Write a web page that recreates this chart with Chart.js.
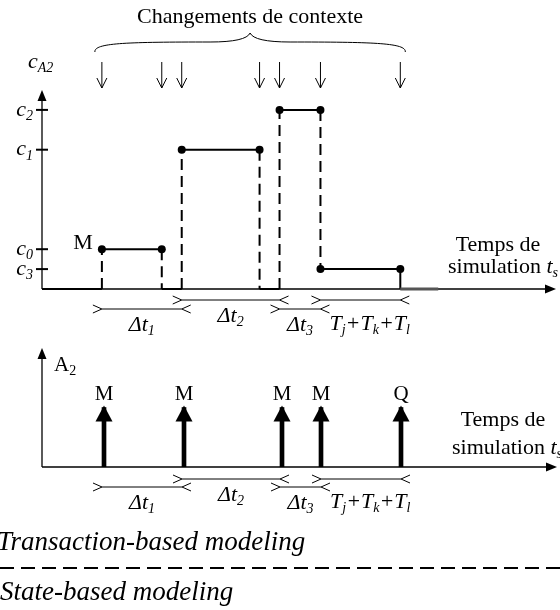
<!DOCTYPE html>
<html>
<head>
<meta charset="utf-8">
<script src="https://cdn.jsdelivr.net/npm/chart.js@4.4.1/dist/chart.umd.min.js"></script>
<style>
  body { margin: 0; background: #fff; }
  #page { position: relative; width: 560px; height: 610px; overflow: hidden; font-family: "Liberation Serif", "Times New Roman", serif; }
  #topChart { position: absolute; left: 0; top: 0; }
  #bottomChart { position: absolute; left: 0; top: 330px; }
  .caption { position: absolute; font-style: italic; font-size: 27px; line-height: 28px; white-space: nowrap; }
  #sep { position: absolute; left: 0; top: 567px; width: 560px; height: 2px;
         background: repeating-linear-gradient(to right, #000 0 14px, transparent 14px 21px); }
</style>
</head>
<body>
<div id="page">
  <canvas id="topChart" width="560" height="345"></canvas>
  <canvas id="bottomChart" width="560" height="200"></canvas>
  <div class="caption" style="left:-3px; top:527px;">Transaction-based modeling</div>
  <div id="sep"></div>
  <div class="caption" style="left:0; top:577px;">State-based modeling</div>
</div>
<script>
// niveaux de c_A2 (unites arbitraires)
var levelNames = ["0", "1", "2", "3"];
var levelValues = [2, 7, 9, 1];

// changements de contexte (temps de simulation, unites arbitraires)
var switchTimes = [6.0, 12.0, 14.0, 21.8, 23.8, 27.9, 35.9];

// plateaux de c_A2 : debut, fin, niveau
var holdStart = [6.0, 14.0, 23.8, 27.9];
var holdEnd   = [12.0, 21.8, 27.9, 35.9];
var holdLevel = [2, 7, 9, 1];
var tailEnd = 39.7;

// transactions sur A2
var txTimes  = [6.2, 14.2, 24.0, 27.9, 35.9];
var txNames  = ["M", "M", "M", "M", "Q"];
var txHeight = [0.5, 0.5, 0.5, 0.5, 0.5];

// intervalles entre transactions
var gapStart = [6.0, 14.0, 23.8, 27.9];
var gapEnd   = [14.0, 23.8, 27.9, 35.9];
var gapNames = [
  [["\u0394t", "1", true]],
  [["\u0394t", "2", true]],
  [["\u0394t", "3", true]],
  [["T", "j", true], ["+T", "k", true], ["+T", "l", true]]
];

var SERIF = '"Liberation Serif", "Times New Roman", serif';

function font(size, italic) {
  return (italic ? "italic " : "") + size + "px " + SERIF;
}

// texte avec indices : parts = [[texte, indice, italique], ...]
function richWidth(ctx, parts, size) {
  var w = 0;
  parts.forEach(function (p) {
    ctx.font = font(size, p[2]);
    w += ctx.measureText(p[0]).width;
    if (p[1]) {
      ctx.font = font(Math.round(size * 0.65), p[2]);
      w += ctx.measureText(p[1]).width;
    }
  });
  return w;
}

function drawRich(ctx, parts, x, y, size, align) {
  var w = richWidth(ctx, parts, size);
  if (align == "center") x -= w / 2;
  if (align == "right") x -= w;
  ctx.textAlign = "left";
  ctx.textBaseline = "middle";
  ctx.fillStyle = "#000";
  parts.forEach(function (p) {
    ctx.font = font(size, p[2]);
    ctx.fillText(p[0], x, y);
    x += ctx.measureText(p[0]).width;
    if (p[1]) {
      ctx.font = font(Math.round(size * 0.65), p[2]);
      ctx.fillText(p[1], x, y + size * 0.28);
      x += ctx.measureText(p[1]).width;
    }
  });
}

function line(ctx, x1, y1, x2, y2, w) {
  ctx.lineWidth = w;
  ctx.beginPath();
  ctx.moveTo(x1, y1);
  ctx.lineTo(x2, y2);
  ctx.stroke();
}

function headUp(ctx, x, tip, len, half) {
  ctx.beginPath();
  ctx.moveTo(x, tip);
  ctx.lineTo(x - half, tip + len);
  ctx.lineTo(x + half, tip + len);
  ctx.closePath();
  ctx.fill();
}

function headRight(ctx, tip, y, len, half) {
  ctx.beginPath();
  ctx.moveTo(tip, y);
  ctx.lineTo(tip - len, y - half);
  ctx.lineTo(tip - len, y + half);
  ctx.closePath();
  ctx.fill();
}

// axes avec fleches
function drawAxes(chart) {
  var ctx = chart.ctx, a = chart.chartArea;
  ctx.strokeStyle = "#000";
  ctx.fillStyle = "#000";
  line(ctx, a.left, a.bottom, a.left, a.top + 8, 1.3);
  headUp(ctx, a.left, a.top, 11, 4.5);
  line(ctx, a.left, a.bottom, a.right - 8, a.bottom, 1.3);
  headRight(ctx, a.right, a.bottom, 11, 4.5);
}

// intervalles  >----<
function drawIntervals(chart, upperY, lowerY) {
  var ctx = chart.ctx, xs = chart.scales.x;
  ctx.strokeStyle = "#000";
  for (var i = 0; i < gapStart.length; i++) {
    var x1 = xs.getPixelForValue(gapStart[i]);
    var x2 = xs.getPixelForValue(gapEnd[i]);
    var y = i % 2 == 0 ? lowerY : upperY;
    line(ctx, x1, y, x2, y, 1);
    ctx.lineWidth = 1;
    ctx.beginPath();
    ctx.moveTo(x1 - 9, y - 4); ctx.lineTo(x1, y); ctx.lineTo(x1 - 9, y + 4);
    ctx.moveTo(x2 + 9, y - 4); ctx.lineTo(x2, y); ctx.lineTo(x2 + 9, y + 4);
    ctx.stroke();
    if (i == gapStart.length - 1) {
      drawRich(ctx, gapNames[i], x1 + 9, lowerY + 15, 22, "left");
    } else {
      drawRich(ctx, gapNames[i], (x1 + x2) / 2, y + 16, 22, "center");
    }
  }
}

function drawSimLabel(ctx, cx, y1, right, y2) {
  ctx.font = font(22, false);
  ctx.textAlign = "center";
  ctx.textBaseline = "middle";
  ctx.fillText("Temps de", cx, y1);
  drawRich(ctx, [["simulation ", "", false], ["t", "s", true]], right, y2, 22, "right");
}

var topDecor = {
  id: "topDecor",
  beforeDatasetsDraw: function (chart) {
    var ctx = chart.ctx, a = chart.chartArea, ys = chart.scales.y;
    ctx.save();
    drawAxes(chart);
    levelValues.forEach(function (v, i) {
      var y = ys.getPixelForValue(v);
      line(ctx, a.left - 6, y, a.left + 6, y, 2);
      drawRich(ctx, [["c", levelNames[i], true]], a.left - 9, y, 22, "right");
    });
    drawRich(ctx, [["c", "A2", true]], a.left - 14, a.top - 28, 22, "left");
    ctx.restore();
  },
  afterDatasetsDraw: function (chart) {
    var ctx = chart.ctx, a = chart.chartArea, xs = chart.scales.x, ys = chart.scales.y;
    ctx.save();
    ctx.strokeStyle = "#000";
    ctx.fillStyle = "#000";

    // fleches des changements de contexte
    switchTimes.forEach(function (t) {
      var x = xs.getPixelForValue(t);
      line(ctx, x, a.top - 28, x, a.top - 2, 1);
      ctx.beginPath();
      ctx.moveTo(x - 5, a.top - 12); ctx.lineTo(x, a.top - 2); ctx.lineTo(x + 5, a.top - 12);
      ctx.stroke();
    });

    // accolade
    var xL = xs.getPixelForValue(switchTimes[0]) - 7;
    var xR = xs.getPixelForValue(switchTimes[switchTimes.length - 1]) + 5;
    var xC = (xL + xR) / 2;
    var yEnd = a.top - 38, yLine = a.top - 48, yPeak = a.top - 57;
    ctx.lineWidth = 1;
    ctx.beginPath();
    ctx.moveTo(xL, yEnd);
    ctx.bezierCurveTo(xL - 1, yLine + 1, xL + 30, yLine, xC - 40, yLine);
    ctx.quadraticCurveTo(xC - 4, yLine, xC, yPeak);
    ctx.quadraticCurveTo(xC + 4, yLine, xC + 40, yLine);
    ctx.bezierCurveTo(xR - 30, yLine, xR + 1, yLine + 1, xR, yEnd);
    ctx.stroke();

    ctx.font = font(22, false);
    ctx.textAlign = "center";
    ctx.textBaseline = "middle";
    ctx.fillText("Changements de contexte", xC, 17);

    // premiere transaction
    ctx.textAlign = "right";
    ctx.fillText(txNames[0], xs.getPixelForValue(holdStart[0]) - 9, ys.getPixelForValue(holdLevel[0]) - 6);

    drawSimLabel(ctx, 498, 245, 558, 267);
    drawIntervals(chart, a.bottom + 11, a.bottom + 20);
    ctx.restore();
  }
};

var bottomDecor = {
  id: "bottomDecor",
  beforeDatasetsDraw: function (chart) {
    var ctx = chart.ctx, a = chart.chartArea;
    ctx.save();
    drawAxes(chart);
    drawRich(ctx, [["A", "2", false]], a.left + 12, a.top + 17, 21, "left");
    ctx.restore();
  },
  afterDatasetsDraw: function (chart) {
    var ctx = chart.ctx, a = chart.chartArea;
    ctx.save();
    ctx.fillStyle = "#000";
    chart.getDatasetMeta(0).data.forEach(function (bar, i) {
      var tip = bar.y - 2;
      headUp(ctx, bar.x, tip, 16, 8.5);
      ctx.font = font(21, false);
      ctx.textAlign = "center";
      ctx.textBaseline = "middle";
      ctx.fillText(txNames[i], bar.x, tip - 11);
    });
    drawSimLabel(ctx, 503, 90, 562, 118);
    drawIntervals(chart, a.bottom + 12, a.bottom + 20);
    ctx.restore();
  }
};

function holdPoints() {
  var pts = [];
  for (var i = 0; i < holdStart.length; i++) {
    pts.push({ x: holdStart[i], y: holdLevel[i] }, { x: holdEnd[i], y: holdLevel[i] }, { x: holdEnd[i], y: null });
  }
  return pts;
}

// fronts : pointilles sauf le dernier retour a zero
function edgePoints(dashed) {
  var pts = [];
  var n = holdStart.length;
  for (var i = 0; i < n; i++) {
    var before = (i > 0 && holdEnd[i - 1] == holdStart[i]) ? holdLevel[i - 1] : 0;
    var joined = i < n - 1 && holdStart[i + 1] == holdEnd[i];
    if (dashed) {
      pts.push({ x: holdStart[i], y: before }, { x: holdStart[i], y: holdLevel[i] }, { x: holdStart[i], y: null });
      if (!joined && i < n - 1) {
        pts.push({ x: holdEnd[i], y: holdLevel[i] }, { x: holdEnd[i], y: 0 }, { x: holdEnd[i], y: null });
      }
    } else if (i == n - 1) {
      pts.push({ x: holdEnd[i], y: holdLevel[i] }, { x: holdEnd[i], y: 0 });
    }
  }
  return pts;
}

function baselinePoints() {
  var pts = [{ x: 0, y: 0 }, { x: holdStart[0], y: 0 }, { x: holdStart[0], y: null }];
  for (var i = 1; i < holdStart.length; i++) {
    if (holdEnd[i - 1] != holdStart[i]) {
      pts.push({ x: holdEnd[i - 1], y: 0 }, { x: holdStart[i], y: 0 }, { x: holdStart[i], y: null });
    }
  }
  return pts;
}

var common = {
  responsive: false,
  animation: false,
  events: [],
  plugins: { legend: { display: false }, tooltip: { enabled: false } }
};

new Chart(document.getElementById("topChart"), {
  type: "line",
  data: {
    datasets: [
      { data: baselinePoints(), borderColor: "#000", borderWidth: 2, pointRadius: 0 },
      { data: [{ x: holdEnd[holdEnd.length - 1], y: 0 }, { x: tailEnd, y: 0 }], borderColor: "#555", borderWidth: 3, pointRadius: 0 },
      { data: edgePoints(true), borderColor: "#000", borderWidth: 2, borderDash: [11, 6], pointRadius: 0 },
      { data: edgePoints(false), borderColor: "#000", borderWidth: 2, pointRadius: 0 },
      { data: holdPoints(), borderColor: "#000", borderWidth: 2, pointRadius: 4,
        pointBackgroundColor: "#000", pointBorderColor: "#000", pointBorderWidth: 0 }
    ]
  },
  options: Object.assign({}, common, {
    layout: { padding: { left: 42, right: 3, top: 90, bottom: 56 } },
    scales: {
      x: { type: "linear", min: 0, max: 51.5, display: false },
      y: { min: 0, max: 10, display: false }
    },
    datasets: { line: { clip: false, spanGaps: false, tension: 0 } }
  }),
  plugins: [topDecor]
});

new Chart(document.getElementById("bottomChart"), {
  type: "bar",
  data: {
    datasets: [{
      data: txTimes.map(function (t, i) { return { x: t, y: txHeight[i] }; }),
      backgroundColor: "#000",
      borderWidth: 0,
      barThickness: 4
    }]
  },
  options: Object.assign({}, common, {
    layout: { padding: { left: 42, right: 3, top: 18, bottom: 63 } },
    scales: {
      x: { type: "linear", min: 0, max: 51.5, offset: false, display: false },
      y: { min: 0, max: 1, display: false }
    }
  }),
  plugins: [bottomDecor]
});
</script>
</body>
</html>
